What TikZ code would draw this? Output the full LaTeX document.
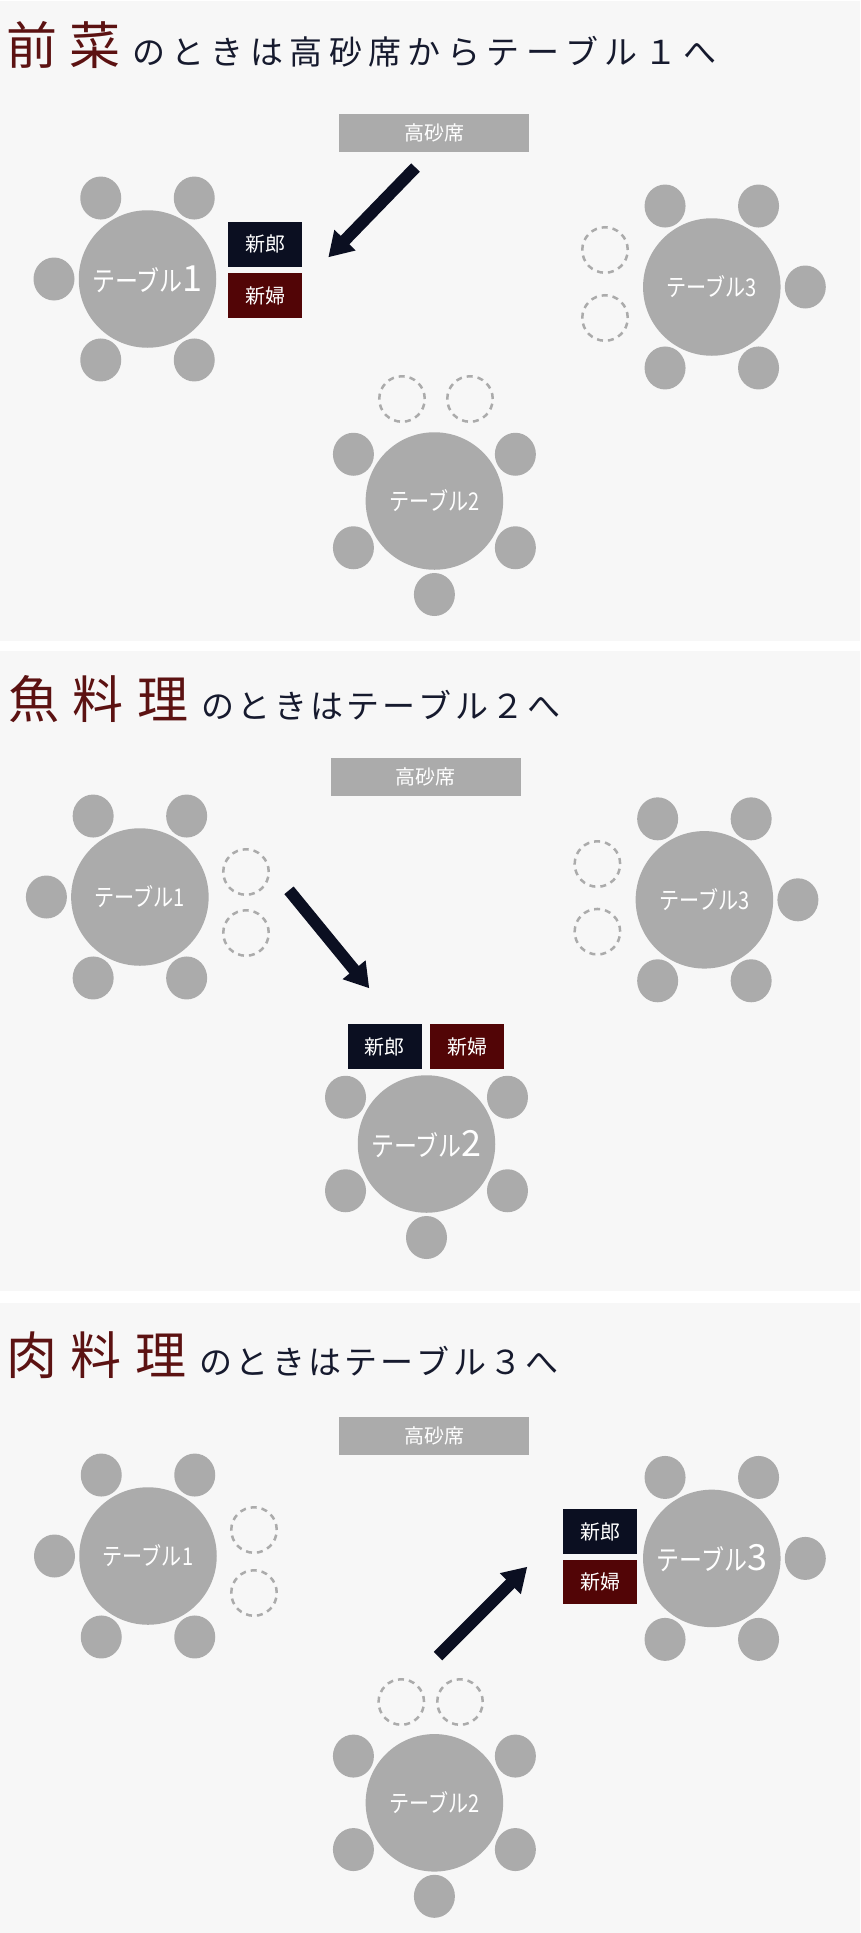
\documentclass[tikz,border=0pt]{standalone}
\usepackage{fontspec}
\setmainfont{Noto Sans CJK JP}
\newfontfamily\condf[FakeStretch=0.82]{Noto Sans CJK JP}
\usetikzlibrary{shapes.geometric,arrows.meta}
\definecolor{panelbg}{HTML}{F7F7F7}
\definecolor{tablegray}{HTML}{ABABAB}
\definecolor{navy}{HTML}{0B0F21}
\definecolor{maroon}{HTML}{520506}
\definecolor{titlered}{HTML}{5C1212}
\definecolor{titlenavy}{HTML}{161A2E}
\makeatletter
\newcommand\lsp[2]{\@tfor\lsp@c:=#2\do{\lsp@c\kern#1}}
\makeatother
\newcommand\biglabel[1]{{\condf\fontsize{28pt}{30pt}\selectfont テーブル}{\fontsize{36pt}{38pt}\selectfont #1}}
\newcommand\smalllabel[1]{{\condf\fontsize{24.5pt}{26pt}\selectfont テーブル#1}}
\newcommand\chairring[2]{\foreach \a [count=\i] in {#2} \node[chair] (#1c\i) at ([shift={(\a:93.5)}]#1.center) {};}
\tikzset{
  panel/.style={fill=panelbg, draw=none},
  tbl/.style={circle, minimum size=137.5pt, fill=tablegray, inner sep=0pt, text=white},
  chair/.style={ellipse, minimum width=41pt, minimum height=43pt, fill=tablegray, inner sep=0pt},
  vacant/.style={circle, minimum size=45.5pt, draw=tablegray, line width=2.5pt, dash pattern=on 6pt off 5pt, inner sep=0pt},
  seatbox/.style={minimum width=74pt, minimum height=44.5pt, inner sep=0pt, text=white, font=\fontsize{20pt}{22pt}\selectfont},
  groom/.style={seatbox, fill=navy},
  bride/.style={seatbox, fill=maroon},
  stage/.style={fill=tablegray, minimum width=190.5pt, minimum height=37.7pt, inner sep=0pt, text=white, font=\fontsize{20pt}{22pt}\selectfont},
  mover/.style={draw=navy, line width=12pt, -{Triangle[length=24pt,width=28pt]}},
  titletext/.style={anchor=base west, inner sep=0pt, text=titlered}
}
\begin{document}
\begin{tikzpicture}[x=1pt,y=-1pt]
\useasboundingbox (0,0) rectangle (860,1933);
\fill[white] (0,0) rectangle (860,1933);
\fill[panel] (0,1) rectangle (860,640.7);
\fill[panel] (0,650.7) rectangle (860,1290.7);
\fill[panel] (0,1302.7) rectangle (860,1933);

% ---------- Panel 1 ----------
\node[titletext] (p1title) at (6,64) {\fontsize{51pt}{55pt}\selectfont\lsp{12pt}{前菜}{\color{titlenavy}\fontsize{33pt}{36pt}\selectfont\lsp{6.4pt}{のときは高砂席からテーブル１へ}}};
\node[stage] (p1stage) at (434.2,132.9) {高砂席};
\node[tbl] (p1t1) at (147.5,279) {\biglabel{1}};
\chairring{p1t1}{60,120,180,240,300}
\node[groom] (p1groom) at (265,244.3) {新郎};
\node[bride] (p1bride) at (265,295.5) {新婦};
\node[tbl] (p1t3) at (711.8,287) {\smalllabel{3}};
\chairring{p1t3}{60,120,0,240,300}
\node[vacant] (p1v1) at (605,250) {};
\node[vacant] (p1v2) at (605,318) {};
\node[tbl] (p1t2) at (434.4,501) {\smalllabel{2}};
\chairring{p1t2}{210,330,150,30,90}
\node[vacant] (p1v3) at (402,399) {};
\node[vacant] (p1v4) at (470,399) {};
\coordinate (p1a) at (415.5,167.5);
\coordinate (p1b) at (328.3,257.3);
\draw[mover] (p1a) -- (p1b);

% ---------- Panel 2 ----------
\node[titletext] (p2title) at (8,718) {\fontsize{51pt}{55pt}\selectfont\lsp{13.5pt}{魚料理}{\color{titlenavy}\fontsize{33pt}{36pt}\selectfont\lsp{3.2pt}{のときはテーブル２へ}}};
\node[stage] (p2stage) at (425.9,776.7) {高砂席};
\node[tbl] (p2t1) at (139.9,897) {\smalllabel{1}};
\chairring{p2t1}{60,120,180,240,300}
\node[vacant] (p2v1) at (246,872) {};
\node[vacant] (p2v2) at (246,933) {};
\node[tbl] (p2t3) at (704.4,899.8) {\smalllabel{3}};
\chairring{p2t3}{60,120,0,240,300}
\node[vacant] (p2v3) at (597.4,864) {};
\node[vacant] (p2v4) at (597.4,931.7) {};
\node[tbl] (p2t2) at (426.5,1144) {\biglabel{2}};
\chairring{p2t2}{210,330,150,30,90}
\node[groom] (p2groom) at (384.8,1046.5) {新郎};
\node[bride] (p2bride) at (467,1046.5) {新婦};
\coordinate (p2a) at (289,890.3);
\coordinate (p2b) at (369.3,988.3);
\draw[mover] (p2a) -- (p2b);

% ---------- Panel 3 ----------
\node[titletext] (p3title) at (6,1374) {\fontsize{51pt}{55pt}\selectfont\lsp{13.5pt}{肉料理}{\color{titlenavy}\fontsize{33pt}{36pt}\selectfont\lsp{3.2pt}{のときはテーブル３へ}}};
\node[stage] (p3stage) at (434.2,1435.9) {高砂席};
\node[tbl] (p3t1) at (148,1556) {\smalllabel{1}};
\chairring{p3t1}{60,120,180,240,300}
\node[vacant] (p3v1) at (254,1530) {};
\node[vacant] (p3v2) at (254,1593) {};
\node[tbl] (p3t3) at (711.8,1558.4) {\biglabel{3}};
\chairring{p3t3}{60,120,0,240,300}
\node[groom] (p3groom) at (600.2,1531.5) {新郎};
\node[bride] (p3bride) at (600.2,1582) {新婦};
\node[tbl] (p3t2) at (434.4,1802.8) {\smalllabel{2}};
\chairring{p3t2}{210,330,150,30,90}
\node[vacant] (p3v3) at (401.3,1702) {};
\node[vacant] (p3v4) at (460,1702) {};
\coordinate (p3a) at (438,1656);
\coordinate (p3b) at (527.3,1566.7);
\draw[mover] (p3a) -- (p3b);
\end{tikzpicture}
\end{document}
